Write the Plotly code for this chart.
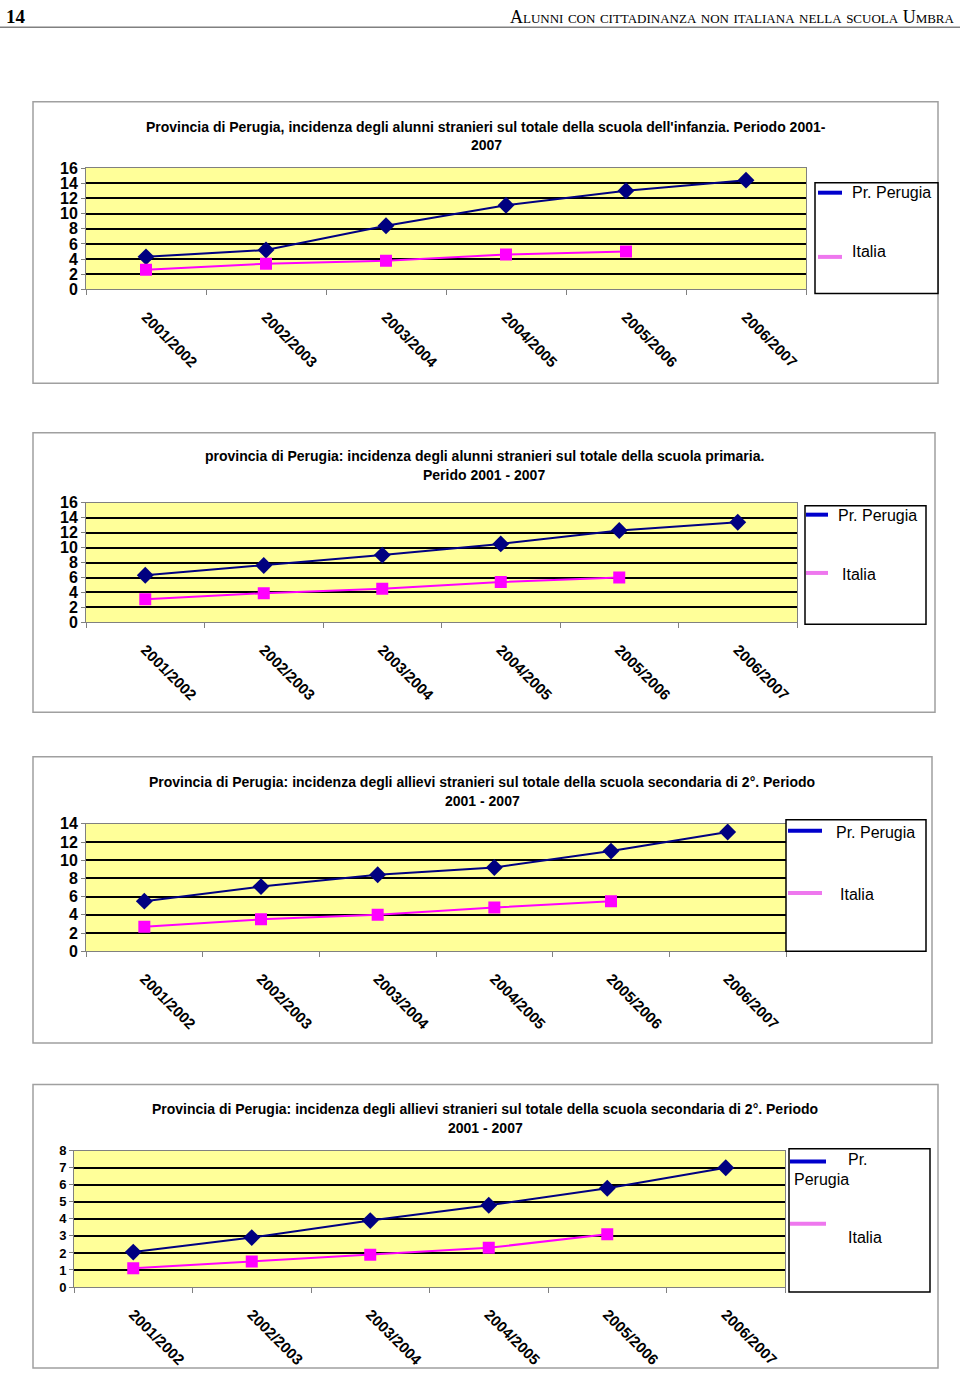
import plotly.graph_objects as go

W, H = 960, 1378

categories = ["2001/2002", "2002/2003", "2003/2004", "2004/2005", "2005/2006", "2006/2007"]

perugia_infanzia = [4.3, 5.2, 8.4, 11.1, 13.0, 14.4]
italia_infanzia = [2.6, 3.4, 3.8, 4.6, 5.0]

perugia_primaria = [6.3, 7.6, 9.0, 10.5, 12.3, 13.4]
italia_primaria = [3.1, 3.9, 4.5, 5.4, 6.0]

perugia_sec_a = [5.5, 7.1, 8.4, 9.2, 11.0, 13.1]
italia_sec_a = [2.7, 3.5, 4.0, 4.8, 5.5]

perugia_sec_b = [2.05, 2.9, 3.9, 4.8, 5.8, 7.0]
italia_sec_b = [1.1, 1.5, 1.9, 2.3, 3.1]

titles = [
    ["Provincia di Perugia, incidenza degli alunni stranieri sul totale della scuola dell'infanzia. Periodo 2001-", "2007"],
    ["provincia di Perugia: incidenza degli alunni stranieri sul totale della scuola primaria.", "Perido 2001 - 2007"],
    ["Provincia di Perugia: incidenza degli allievi stranieri sul totale della scuola secondaria di 2°. Periodo", "2001 - 2007"],
    ["Provincia di Perugia: incidenza degli allievi stranieri sul totale della scuola secondaria di 2°. Periodo", "2001 - 2007"],
]
series_names = ["Pr. Perugia", "Italia"]
y_max = [16, 16, 14, 8]
y_step = [2, 2, 2, 1]

# layout geometry (pixels)
panels = [
    dict(frame=(33, 95, 938, 380), plot=(86, 162, 806, 285), title_y=(120, 139), title_x=486,
         legend=(815, 177, 938, 289), leg_items=[(818, 842, 187, 850, 187), (818, 842, 252, 850, 247)],
         tick_size=16),
    dict(frame=(33, 430, 935, 713), plot=(86, 501, 797, 622), title_y=(454, 473), title_x=484,
         legend=(805, 504, 926, 624), leg_items=[(806, 828, 513, 836, 514), (806, 828, 572, 840, 574)],
         tick_size=16),
    dict(frame=(33, 758, 932, 1048), plot=(86, 826, 786, 955), title_y=(784, 803), title_x=482,
         legend=(786, 822, 926, 955), leg_items=[(788, 822, 833, 834, 835), (788, 822, 896, 838, 898)],
         tick_size=16),
    dict(frame=(33, 1090, 938, 1377), plot=(74, 1157, 785, 1295), title_y=(1115, 1134), title_x=485,
         legend=(789, 1155, 930, 1300), leg_items=[(790, 826, 1168, 846, 1166), (790, 826, 1231, 846, 1245)],
         tick_size=13),
]

data_sets = [
    (perugia_infanzia, italia_infanzia),
    (perugia_primaria, italia_primaria),
    (perugia_sec_a, italia_sec_a),
    (perugia_sec_b, italia_sec_b),
]

def px(x):
    return x / W

def py(y):
    return 1 - y / H

fig = go.Figure()
shapes = []
annotations = []
layout_axes = {}

FONT = "Liberation Sans, Arial, sans-serif"

for i, (p, (per, ita)) in enumerate(zip(panels, data_sets)):
    n = i + 1
    xa = "x" if n == 1 else f"x{n}"
    ya = "y" if n == 1 else f"y{n}"
    xkey = "xaxis" if n == 1 else f"xaxis{n}"
    ykey = "yaxis" if n == 1 else f"yaxis{n}"
    x0, y0, x1, y1 = p["plot"]

    # frame
    fx0, fy0, fx1, fy1 = p["frame"]
    shapes.append(dict(type="rect", xref="paper", yref="paper",
                       x0=px(fx0), x1=px(fx1), y0=py(fy1), y1=py(fy0),
                       line=dict(color="#a0a0a0", width=1.5), layer="below"))

    fig.add_trace(go.Scatter(
        x=categories[:len(per)], y=per, xaxis=xa, yaxis=ya, mode="lines+markers",
        name=series_names[0], showlegend=False,
        line=dict(color="#000080", width=2),
        marker=dict(symbol="diamond", size=13, color="#000080"),
    ))
    fig.add_trace(go.Scatter(
        x=categories[:len(ita)], y=ita, xaxis=xa, yaxis=ya, mode="lines+markers",
        name=series_names[1], showlegend=False,
        line=dict(color="#FF00FF", width=2),
        marker=dict(symbol="square", size=12, color="#FF00FF"),
    ))

    layout_axes[xkey] = dict(
        domain=[px(x0), px(x1)], anchor=ya, type="category",
        categoryorder="array", categoryarray=categories,
        range=[-0.5, len(categories) - 0.5],
        tickson="boundaries", ticks="outside", ticklen=5, tickcolor="#808080",
        tickangle=45, ticklabelstandoff=12,
        tickfont=dict(family=FONT, size=15, color="black", weight="bold"),
        showgrid=False, showline=True, linecolor="#808080", linewidth=1, mirror=True,
        zeroline=False, fixedrange=True,
    )
    layout_axes[ykey] = dict(
        domain=[py(y1), py(y0)], anchor=xa,
        range=[0, y_max[i]], dtick=y_step[i], tick0=0,
        ticks="outside", ticklen=4, tickcolor="#808080",
        tickfont=dict(family=FONT, size=p["tick_size"], color="black", weight="bold"),
        showgrid=True, gridcolor="black", gridwidth=2,
        showline=True, linecolor="#808080", linewidth=1, mirror=True,
        zeroline=False, fixedrange=True,
    )

    # title
    for line, ty in zip(titles[i], p["title_y"]):
        annotations.append(dict(
            text=line, xref="paper", yref="paper", x=px(p["title_x"]), y=py(ty),
            xanchor="center", yanchor="middle", showarrow=False,
            font=dict(family=FONT, size=14, color="black", weight="bold"),
        ))

    # legend box
    lx0, ly0, lx1, ly1 = p["legend"]
    shapes.append(dict(type="rect", xref="paper", yref="paper",
                       x0=px(lx0), x1=px(lx1), y0=py(ly1), y1=py(ly0),
                       line=dict(color="black", width=1.5), fillcolor="white"))
    leg_colors = ["#0000CC", "#EE77EE"]
    for j, (sx0, sx1, sy, tx, ty) in enumerate(p["leg_items"]):
        shapes.append(dict(type="line", xref="paper", yref="paper",
                           x0=px(sx0), x1=px(sx1), y0=py(sy), y1=py(sy),
                           line=dict(color=leg_colors[j], width=4)))
        if n == 4 and j == 0:
            annotations.append(dict(text="Pr.", xref="paper", yref="paper", x=px(846), y=py(1166),
                                    xanchor="left", yanchor="middle", showarrow=False,
                                    font=dict(family=FONT, size=16, color="black")))
            annotations.append(dict(text="Perugia", xref="paper", yref="paper", x=px(792), y=py(1186),
                                    xanchor="left", yanchor="middle", showarrow=False,
                                    font=dict(family=FONT, size=16, color="black")))
        else:
            annotations.append(dict(text=series_names[j], xref="paper", yref="paper", x=px(tx), y=py(ty),
                                    xanchor="left", yanchor="middle", showarrow=False,
                                    font=dict(family=FONT, size=16, color="black")))

# page header
annotations.append(dict(text="14", xref="paper", yref="paper", x=px(4), y=py(9),
                        xanchor="left", yanchor="middle", showarrow=False,
                        font=dict(family="Liberation Serif, Times New Roman, serif", size=19,
                                  color="black", weight="bold")))
annotations.append(dict(text="Alunni con cittadinanza non italiana nella scuola Umbra",
                        xref="paper", yref="paper", x=px(957), y=py(9),
                        xanchor="right", yanchor="middle", showarrow=False,
                        font=dict(family="Liberation Serif, Times New Roman, serif", size=18,
                                  color="black", variant="small-caps")))
shapes.append(dict(type="line", xref="paper", yref="paper", x0=0, x1=1, y0=py(19.5), y1=py(19.5),
                   line=dict(color="#808080", width=1.5)))

fig.update_layout(
    width=W, height=H, autosize=False,
    margin=dict(l=0, r=0, t=0, b=0),
    paper_bgcolor="white", plot_bgcolor="#FFFF99",
    showlegend=False,
    shapes=shapes, annotations=annotations,
    **layout_axes,
)

fig.write_html(
    "out.html",
    config={"displayModeBar": False},
    post_script="document.body.style.margin='0';document.body.style.padding='0';document.documentElement.style.overflow='hidden';",
)
